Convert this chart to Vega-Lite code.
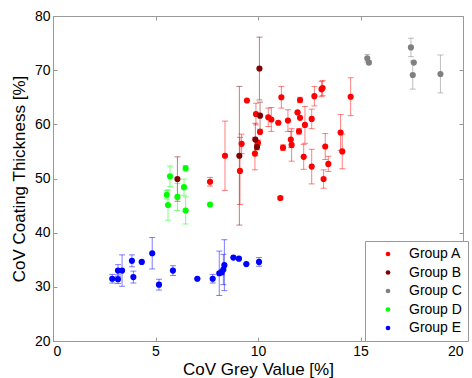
{
  "$schema": "https://vega.github.io/schema/vega-lite/v6.json",
  "width": 410,
  "height": 325,
  "autosize": "none",
  "padding": {"left": 53, "top": 16, "right": 9, "bottom": 37},
  "config": {
    "view": {"stroke": null},
    "font": "Liberation Sans",
    "axis": {
      "grid": false,
      "domainColor": "#999999",
      "tickColor": "#999999",
      "labelColor": "#000000",
      "titleColor": "#000000",
      "labelFontSize": 14,
      "titleFontSize": 17,
      "titleFontWeight": "normal",
      "labelFont": "Liberation Sans",
      "titleFont": "Liberation Sans"
    }
  },
  "data": {
    "values": [
      {"g": "Group A", "x": 7.66, "y": 49.4, "e": 0.8},
      {"g": "Group A", "x": 8.39, "y": 54.2, "e": 6.4},
      {"g": "Group A", "x": 9.12, "y": 51.4, "e": 6.2},
      {"g": "Group A", "x": 9.2, "y": 56.4, "e": 1.8},
      {"g": "Group A", "x": 9.46, "y": 64.4, "e": 0},
      {"g": "Group A", "x": 9.9, "y": 61.9, "e": 2.0},
      {"g": "Group A", "x": 10.0, "y": 56.6, "e": 0.5},
      {"g": "Group A", "x": 9.85, "y": 54.6, "e": 3.0},
      {"g": "Group A", "x": 10.1, "y": 58.6, "e": 0},
      {"g": "Group A", "x": 10.5, "y": 61.3, "e": 1.7},
      {"g": "Group A", "x": 10.65, "y": 60.9, "e": 2.2},
      {"g": "Group A", "x": 10.99, "y": 60.3, "e": 0},
      {"g": "Group A", "x": 11.14, "y": 65.0, "e": 2.0},
      {"g": "Group A", "x": 11.22, "y": 55.7, "e": 0.5},
      {"g": "Group A", "x": 11.09, "y": 46.4, "e": 0.3},
      {"g": "Group A", "x": 11.46, "y": 60.7, "e": 2.0},
      {"g": "Group A", "x": 11.6, "y": 57.2, "e": 1.5},
      {"g": "Group A", "x": 11.64, "y": 56.2, "e": 3.0},
      {"g": "Group A", "x": 12.05, "y": 64.5, "e": 0.5},
      {"g": "Group A", "x": 11.93, "y": 62.2, "e": 0},
      {"g": "Group A", "x": 12.05, "y": 61.2, "e": 0},
      {"g": "Group A", "x": 12.0, "y": 58.7, "e": 0.5},
      {"g": "Group A", "x": 12.29, "y": 59.9, "e": 3.4},
      {"g": "Group A", "x": 12.23, "y": 54.0, "e": 2.3},
      {"g": "Group A", "x": 12.62, "y": 61.0, "e": 1.8},
      {"g": "Group A", "x": 12.75, "y": 65.2, "e": 1.8},
      {"g": "Group A", "x": 12.62, "y": 52.2, "e": 3.2},
      {"g": "Group A", "x": 13.1, "y": 66.5, "e": 1.4},
      {"g": "Group A", "x": 13.15, "y": 66.7, "e": 1.4},
      {"g": "Group A", "x": 13.28, "y": 55.9, "e": 2.4},
      {"g": "Group A", "x": 13.43, "y": 52.7, "e": 1.4},
      {"g": "Group A", "x": 13.2, "y": 49.9, "e": 1.7},
      {"g": "Group A", "x": 14.03, "y": 58.5, "e": 3.3},
      {"g": "Group A", "x": 14.11, "y": 55.0, "e": 3.2},
      {"g": "Group A", "x": 14.52, "y": 65.1, "e": 3.5},
      {"g": "Group B", "x": 6.07, "y": 49.9, "e": 4.1},
      {"g": "Group B", "x": 9.09, "y": 54.2, "e": 12.8},
      {"g": "Group B", "x": 10.07, "y": 70.3, "e": 5.8},
      {"g": "Group B", "x": 10.1, "y": 61.6, "e": 2.5},
      {"g": "Group B", "x": 9.87, "y": 57.2, "e": 3.0},
      {"g": "Group B", "x": 9.95, "y": 55.8, "e": 0.5},
      {"g": "Group C", "x": 15.33, "y": 72.2, "e": 0.7},
      {"g": "Group C", "x": 15.41, "y": 71.4, "e": 0.3},
      {"g": "Group C", "x": 17.46, "y": 74.2, "e": 1.7},
      {"g": "Group C", "x": 17.6, "y": 71.4, "e": 0},
      {"g": "Group C", "x": 17.55, "y": 69.1, "e": 2.6},
      {"g": "Group C", "x": 18.9, "y": 69.3, "e": 3.5},
      {"g": "Group D", "x": 5.71, "y": 50.4, "e": 1.9},
      {"g": "Group D", "x": 6.47, "y": 51.9, "e": 0.5},
      {"g": "Group D", "x": 6.39, "y": 48.4, "e": 1.5},
      {"g": "Group D", "x": 5.55, "y": 47.0, "e": 0.8},
      {"g": "Group D", "x": 6.07, "y": 46.6, "e": 2.5},
      {"g": "Group D", "x": 5.61, "y": 45.1, "e": 2.8},
      {"g": "Group D", "x": 6.47, "y": 44.1, "e": 2.5},
      {"g": "Group D", "x": 7.66, "y": 45.2, "e": 0},
      {"g": "Group E", "x": 2.89, "y": 31.5, "e": 0.8},
      {"g": "Group E", "x": 3.17, "y": 31.4, "e": 0.8},
      {"g": "Group E", "x": 3.17, "y": 33.0, "e": 1.1},
      {"g": "Group E", "x": 3.37, "y": 33.0, "e": 2.9},
      {"g": "Group E", "x": 3.85, "y": 34.8, "e": 1.1},
      {"g": "Group E", "x": 3.92, "y": 31.8, "e": 1.1},
      {"g": "Group E", "x": 4.33, "y": 34.6, "e": 0},
      {"g": "Group E", "x": 4.84, "y": 36.2, "e": 2.9},
      {"g": "Group E", "x": 5.17, "y": 30.4, "e": 1.0},
      {"g": "Group E", "x": 5.85, "y": 33.0, "e": 0.9},
      {"g": "Group E", "x": 7.04, "y": 31.5, "e": 0},
      {"g": "Group E", "x": 7.79, "y": 31.5, "e": 0.8},
      {"g": "Group E", "x": 8.11, "y": 32.5, "e": 4.1},
      {"g": "Group E", "x": 8.23, "y": 32.7, "e": 0.5},
      {"g": "Group E", "x": 8.31, "y": 33.2, "e": 2.8},
      {"g": "Group E", "x": 8.36, "y": 34.0, "e": 4.7},
      {"g": "Group E", "x": 8.8, "y": 35.4, "e": 0},
      {"g": "Group E", "x": 9.07, "y": 35.2, "e": 0},
      {"g": "Group E", "x": 9.43, "y": 34.2, "e": 0},
      {"g": "Group E", "x": 10.05, "y": 34.6, "e": 0.8}
    ]
  },
  "layer": [
    {
      "mark": {"type": "errorbar", "ticks": {"size": 6, "thickness": 1}, "thickness": 1, "opacity": 0.5},
      "encoding": {
        "x": {"field": "x", "type": "quantitative", "scale": {"domain": [0, 20], "nice": false},
          "axis": {"orient": "bottom", "values": [0, 5, 10, 15, 20], "tickSize": -4, "labelPadding": 7, "title": "CoV Grey Value [%]", "titlePadding": 3}},
        "y": {"field": "y", "type": "quantitative", "scale": {"domain": [20, 80], "nice": false},
          "axis": {"orient": "left", "values": [20, 30, 40, 50, 60, 70, 80], "tickSize": -4, "labelPadding": 7, "title": "CoV Coating Thickness [%]", "titlePadding": 6}},
        "yError": {"field": "e"},
        "color": {"field": "g", "type": "nominal", "legend": null,
          "scale": {"domain": ["Group A", "Group B", "Group C", "Group D", "Group E"], "range": ["#ff0000", "#800000", "#808080", "#00ff00", "#0000ff"]}}
      }
    },
    {
      "mark": {"type": "point", "filled": true, "shape": "circle", "size": 38, "opacity": 1},
      "encoding": {
        "x": {"field": "x", "type": "quantitative", "axis": null},
        "y": {"field": "y", "type": "quantitative", "axis": null},
        "color": {"field": "g", "type": "nominal",
          "legend": {"title": null, "orient": "none", "legendX": 312, "legendY": 225,
            "strokeColor": "#999999", "padding": 6, "symbolOffset": 10, "symbolSize": 22, "symbolType": "circle",
            "symbolOpacity": 1, "symbolStrokeWidth": 0,
            "labelFontSize": 14, "labelColor": "#000000", "labelFont": "Liberation Sans", "labelOffset": 14, "rowPadding": 4.5, "fillColor": "#ffffff"}}
      }
    },
    {
      "mark": {"type": "point", "opacity": 0},
      "encoding": {
        "x": {"field": "x", "type": "quantitative",
          "axis": {"orient": "top", "values": [0, 5, 10, 15, 20], "tickSize": -4, "labels": false, "title": null}},
        "y": {"field": "y", "type": "quantitative",
          "axis": {"orient": "right", "values": [20, 30, 40, 50, 60, 70, 80], "tickSize": -4, "labels": false, "title": null}}
      }
    }
  ],
  "resolve": {"axis": {"x": "independent", "y": "independent"}, "legend": {"color": "independent"}}
}
